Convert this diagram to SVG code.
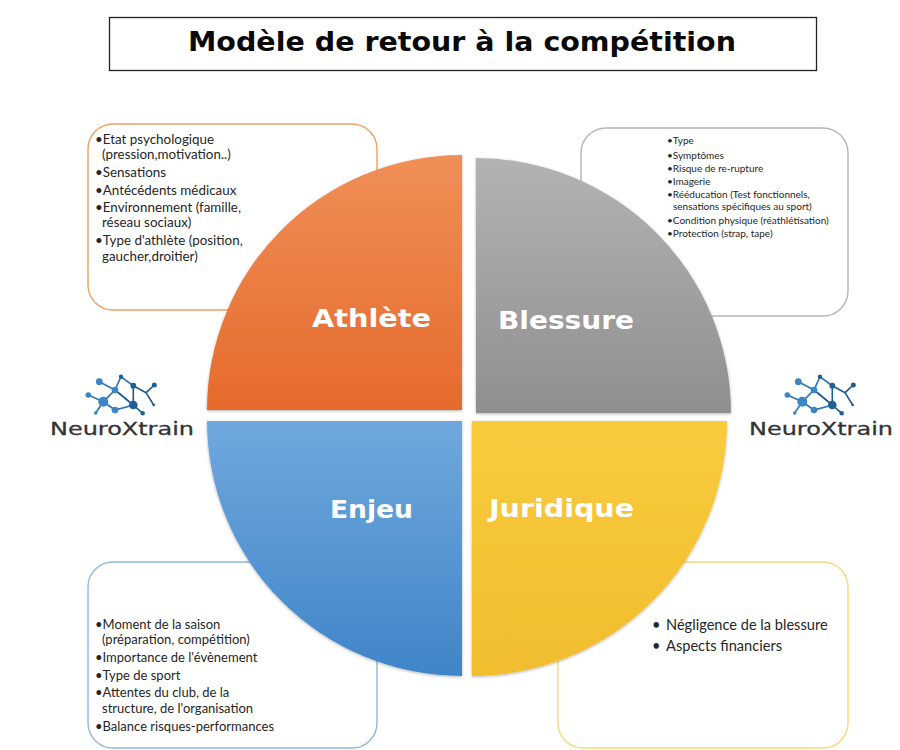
<svg xmlns="http://www.w3.org/2000/svg" width="900" height="750" viewBox="0 0 900 750">
<style>
.box{fill:#fff;stroke-width:1.4}
.t{font-family:"Lato","Carlito","Liberation Sans",sans-serif;fill:#262626}
.a{font-size:13.4px}.b{font-size:10px}.e{font-size:13px}.j{font-size:14.6px}
.lab{font-family:"DejaVu Sans",sans-serif;font-weight:700;font-size:24px;fill:#fff}
.brand{font-family:"DejaVu Sans",sans-serif;font-size:18px;fill:#333;stroke:#333;stroke-width:0.3}
.lk{stroke:#2f78b5;stroke-width:1.7;fill:none}
.lk2{stroke:#1f5a8c;stroke-width:1.6;fill:none}
</style>
<defs>
<linearGradient id="gO" x1="0" y1="0" x2="0" y2="1"><stop offset="0" stop-color="#f08f58"/><stop offset="1" stop-color="#e56a2c"/></linearGradient>
<linearGradient id="gG" x1="0" y1="0" x2="0" y2="1"><stop offset="0" stop-color="#b3b3b3"/><stop offset="1" stop-color="#8f8f8f"/></linearGradient>
<linearGradient id="gB" x1="0" y1="0" x2="0" y2="1"><stop offset="0" stop-color="#70a8de"/><stop offset="1" stop-color="#3f85c8"/></linearGradient>
<linearGradient id="gY" x1="0" y1="0" x2="0" y2="1"><stop offset="0" stop-color="#f8cb3e"/><stop offset="1" stop-color="#f1bd2f"/></linearGradient>
<filter id="sh" x="-5%" y="-5%" width="110%" height="110%"><feDropShadow dx="0" dy="1" stdDeviation="1.5" flood-color="#000" flood-opacity="0.3"/></filter>
<g id="logo">
<path class="lk" d="M99.3 381.7L115 390L103.3 401.700L88.3 395M103.300 401.700L95.700 413M103.300 401.700L115 410L133.300 405L115 390L121 376.700L133.300 385.700"/>
<path class="lk2" d="M133.300 385.700L133.300 405L142.700 413.300M115 390L133.300 405M133.300 385.700L146 392.700L154.300 385M146 392.700L153.700 405"/>
<g fill="#3b87c6"><circle cx="99.300" cy="381.700" r="3.400"/><circle cx="88.300" cy="395" r="2.800"/><circle cx="103.300" cy="401.700" r="5"/><circle cx="95.700" cy="413" r="1.800"/><circle cx="115" cy="390" r="3.300"/><circle cx="115" cy="410" r="3.300"/></g>
<g fill="#1f5f94"><circle cx="121" cy="376.700" r="2.200"/><circle cx="133.300" cy="385.700" r="2.900"/><circle cx="133.300" cy="405" r="4.300"/><circle cx="142.700" cy="413.300" r="2.200"/><circle cx="154.300" cy="385" r="2.500"/><circle cx="153.700" cy="405" r="1.300"/></g>
<text class="brand" x="50" y="435" textLength="144" lengthAdjust="spacingAndGlyphs">NeuroXtrain</text>
</g>
</defs>
<rect width="900" height="750" fill="#fff"/>
<g id="title">
<rect x="109.500" y="17.500" width="707" height="53" fill="#fff" stroke="#222" stroke-width="1.300"/>
<text x="188" y="51" font-family="DejaVu Sans, sans-serif" font-weight="700" font-size="27" fill="#0a0a0a" textLength="548" lengthAdjust="spacingAndGlyphs">Modèle de retour à la compétition</text>
</g>
<g id="box-athlete"><rect class="box" x="88" y="124" width="289" height="186" rx="25" stroke="#eda066"/></g>
<g id="box-blessure"><rect class="box" x="581" y="128" width="267" height="188" rx="25" stroke="#b5b5b5"/></g>
<g id="box-enjeu"><rect class="box" x="88" y="562" width="289" height="186" rx="25" stroke="#8fb8dc"/></g>
<g id="box-juridique"><rect class="box" x="558" y="562" width="290" height="186" rx="25" stroke="#f7d77a"/></g>
<g id="sector-athlete"><path d="M462 410V155A255 255 0 0 0 207 410Z" fill="url(#gO)" filter="url(#sh)"/><text class="lab" x="312" y="327" textLength="119" lengthAdjust="spacingAndGlyphs">Athlète</text></g>
<g id="sector-blessure"><path d="M476 413V158A255 255 0 0 1 731 413Z" fill="url(#gG)" filter="url(#sh)"/><text class="lab" x="498" y="329" textLength="136" lengthAdjust="spacingAndGlyphs">Blessure</text></g>
<g id="sector-enjeu"><path d="M462 421V676A255 255 0 0 1 207 421Z" fill="url(#gB)" filter="url(#sh)"/><text class="lab" x="330" y="518" textLength="83" lengthAdjust="spacingAndGlyphs">Enjeu</text></g>
<g id="sector-juridique"><path d="M472 421V676A255 255 0 0 0 727 421Z" fill="url(#gY)" filter="url(#sh)"/><text class="lab" x="489" y="517" textLength="145" lengthAdjust="spacingAndGlyphs">Juridique</text></g>
<g id="text-athlete" class="t a">
<text x="95" y="144">•Etat psychologique</text>
<text x="102" y="159">(pression,motivation..)</text>
<text x="95" y="177">•Sensations</text>
<text x="95" y="195">•Antécédents médicaux</text>
<text x="95" y="212">•Environnement (famille,</text>
<text x="102" y="227">réseau sociaux)</text>
<text x="95" y="245">•Type d'athlète (position,</text>
<text x="102" y="261">gaucher,droitier)</text>
</g>
<g id="text-blessure" class="t b">
<text x="667" y="144">•Type</text>
<text x="667" y="159">•Symptômes</text>
<text x="667" y="172">•Risque de re-rupture</text>
<text x="667" y="185">•Imagerie</text>
<text x="667" y="198">•Rééducation (Test fonctionnels,</text>
<text x="673" y="210">sensations spécifiques au sport)</text>
<text x="667" y="224">•Condition physique (réathlétisation)</text>
<text x="667" y="237">•Protection (strap, tape)</text>
</g>
<g id="text-enjeu" class="t e">
<text x="95" y="629">•Moment de la saison</text>
<text x="102" y="644">(préparation, compétition)</text>
<text x="95" y="662">•Importance de l'évènement</text>
<text x="95" y="680">•Type de sport</text>
<text x="95" y="697">•Attentes du club, de la</text>
<text x="102" y="713">structure, de l'organisation</text>
<text x="95" y="731">•Balance risques-performances</text>
</g>
<g id="text-juridique" class="t j">
<text x="652" y="630">•</text><text x="666" y="630">Négligence de la blessure</text>
<text x="652" y="651">•</text><text x="666" y="651">Aspects financiers</text>
</g>
<g id="logo-left"><use href="#logo"/></g>
<g id="logo-right"><use href="#logo" x="699"/></g>
</svg>
